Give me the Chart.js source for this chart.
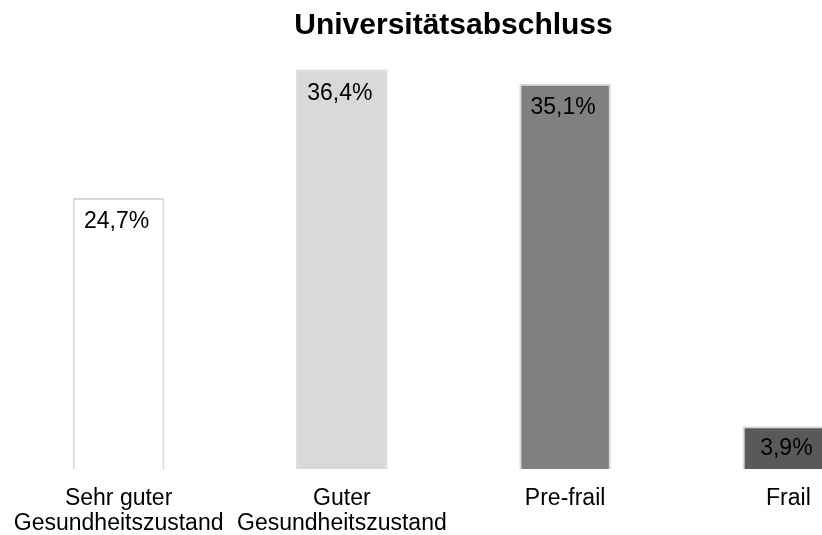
<!DOCTYPE html>
<html>
<head>
<meta charset="utf-8">
<script src="https://cdn.jsdelivr.net/npm/chart.js@4/dist/chart.umd.min.js"></script>
<style>
  html, body { margin: 0; padding: 0; background: #fff; overflow: hidden; }
  #wrap { position: relative; width: 913px; height: 542px; }
</style>
</head>
<body>
<div id="wrap"><canvas id="chart"></canvas></div>
<script>
// data
const categories = [
  ["Sehr guter", "Gesundheitszustand"],
  ["Guter", "Gesundheitszustand"],
  "Pre-frail",
  "Frail",
];
const shares = [24.7, 36.4, 35.1, 3.9];
const barColors = ["#ffffff", "#d9d9d9", "#808080", "#595959"];
const titleText = "Universitätsabschluss";

const FONT = "'Liberation Sans', Arial, Helvetica, sans-serif";

// value labels drawn at the top inside each bar
const valueLabels = {
  id: "valueLabels",
  afterDatasetsDraw(chart) {
    const ctx = chart.ctx;
    const meta = chart.getDatasetMeta(0);
    ctx.save();
    ctx.font = "23px " + FONT;
    ctx.fillStyle = "#000";
    ctx.textAlign = "center";
    ctx.textBaseline = "middle";
    meta.data.forEach(function (bar, i) {
      const txt = shares[i].toFixed(1).replace(".", ",") + "%";
      const y = Math.min(bar.y + 24, (bar.y + bar.base) / 2 + 1);
      ctx.fillText(txt, bar.x - 2, y);
    });
    ctx.restore();
  },
};

const ctx = document.getElementById("chart").getContext("2d");
const chart = new Chart(ctx, {
  type: "bar",
  data: {
    labels: categories,
    datasets: [
      {
        data: shares,
        backgroundColor: barColors,
        borderColor: "#d9d9d9",
        borderWidth: 2,
        barPercentage: 0.82,
        categoryPercentage: 0.5,
      },
    ],
  },
  options: {
    responsive: true,
    maintainAspectRatio: false,
    animation: false,
    layout: { padding: { left: 7, right: 13, top: 8, bottom: 4 } },
    plugins: {
      legend: { display: false },
      tooltip: { enabled: false },
      title: {
        display: true,
        text: titleText,
        color: "#000",
        font: { family: FONT, size: 30, weight: "bold", lineHeight: 1.2 },
        padding: { top: 0, bottom: 19 },
      },
    },
    scales: {
      x: {
        grid: {
          color: "rgba(0,0,0,0)",
          drawOnChartArea: false,
          tickLength: 15,
        },
        border: { display: false },
        ticks: {
          color: "#000",
          font: { family: FONT, size: 23, lineHeight: 1.087 },
          padding: 2,
          maxRotation: 0,
          autoSkip: false,
        },
      },
      y: {
        display: false,
        min: 0,
        max: 37,
      },
    },
  },
  plugins: [valueLabels],
});
</script>
</body>
</html>
